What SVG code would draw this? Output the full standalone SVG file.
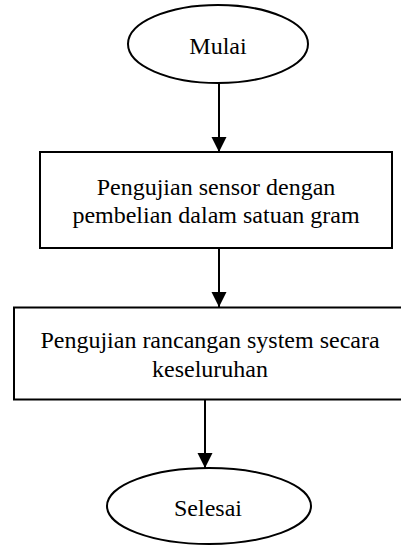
<svg xmlns="http://www.w3.org/2000/svg" width="401" height="546" viewBox="0 0 401 546">
<style>
.s{fill:#fff;stroke:#000;stroke-width:2}
.t{font-family:'Liberation Serif','Times New Roman',Times,serif;font-size:24px;fill:#000;text-anchor:middle}
.c{stroke:#000;stroke-width:2;fill:none}
</style>
<defs>
<marker id="ah" markerUnits="userSpaceOnUse" markerWidth="16" markerHeight="16" viewBox="0 0 16 16" refX="15" refY="8" orient="auto">
<path d="M0,0.5 L15,8 L0,15.5 Z" fill="#000"/>
</marker>
</defs>
<rect width="401" height="546" fill="#fff"/>
<g id="connectors">
<line class="c" x1="219" y1="83" x2="219" y2="152" marker-end="url(#ah)"/>
<line class="c" x1="219" y1="248" x2="219" y2="307" marker-end="url(#ah)"/>
<line class="c" x1="205" y1="400" x2="205" y2="468" marker-end="url(#ah)"/>
</g>
<g id="start">
<ellipse class="s" cx="218" cy="44" rx="90" ry="39"/>
<text class="t" font-family="Liberation Serif, serif" x="218" y="54">Mulai</text>
</g>
<g id="step1">
<rect class="s" x="40" y="152" width="352" height="96"/>
<text class="t" font-family="Liberation Serif, serif" x="216" y="195">Pengujian sensor dengan</text>
<text class="t" font-family="Liberation Serif, serif" x="216" y="223">pembelian dalam satuan gram</text>
</g>
<g id="step2">
<rect class="s" x="14" y="307.5" width="392" height="92"/>
<text class="t" font-family="Liberation Serif, serif" x="210" y="348">Pengujian rancangan system secara</text>
<text class="t" font-family="Liberation Serif, serif" x="210" y="377">keseluruhan</text>
</g>
<g id="end">
<ellipse class="s" cx="209" cy="506" rx="102" ry="38"/>
<text class="t" font-family="Liberation Serif, serif" x="208" y="516">Selesai</text>
</g>
</svg>
